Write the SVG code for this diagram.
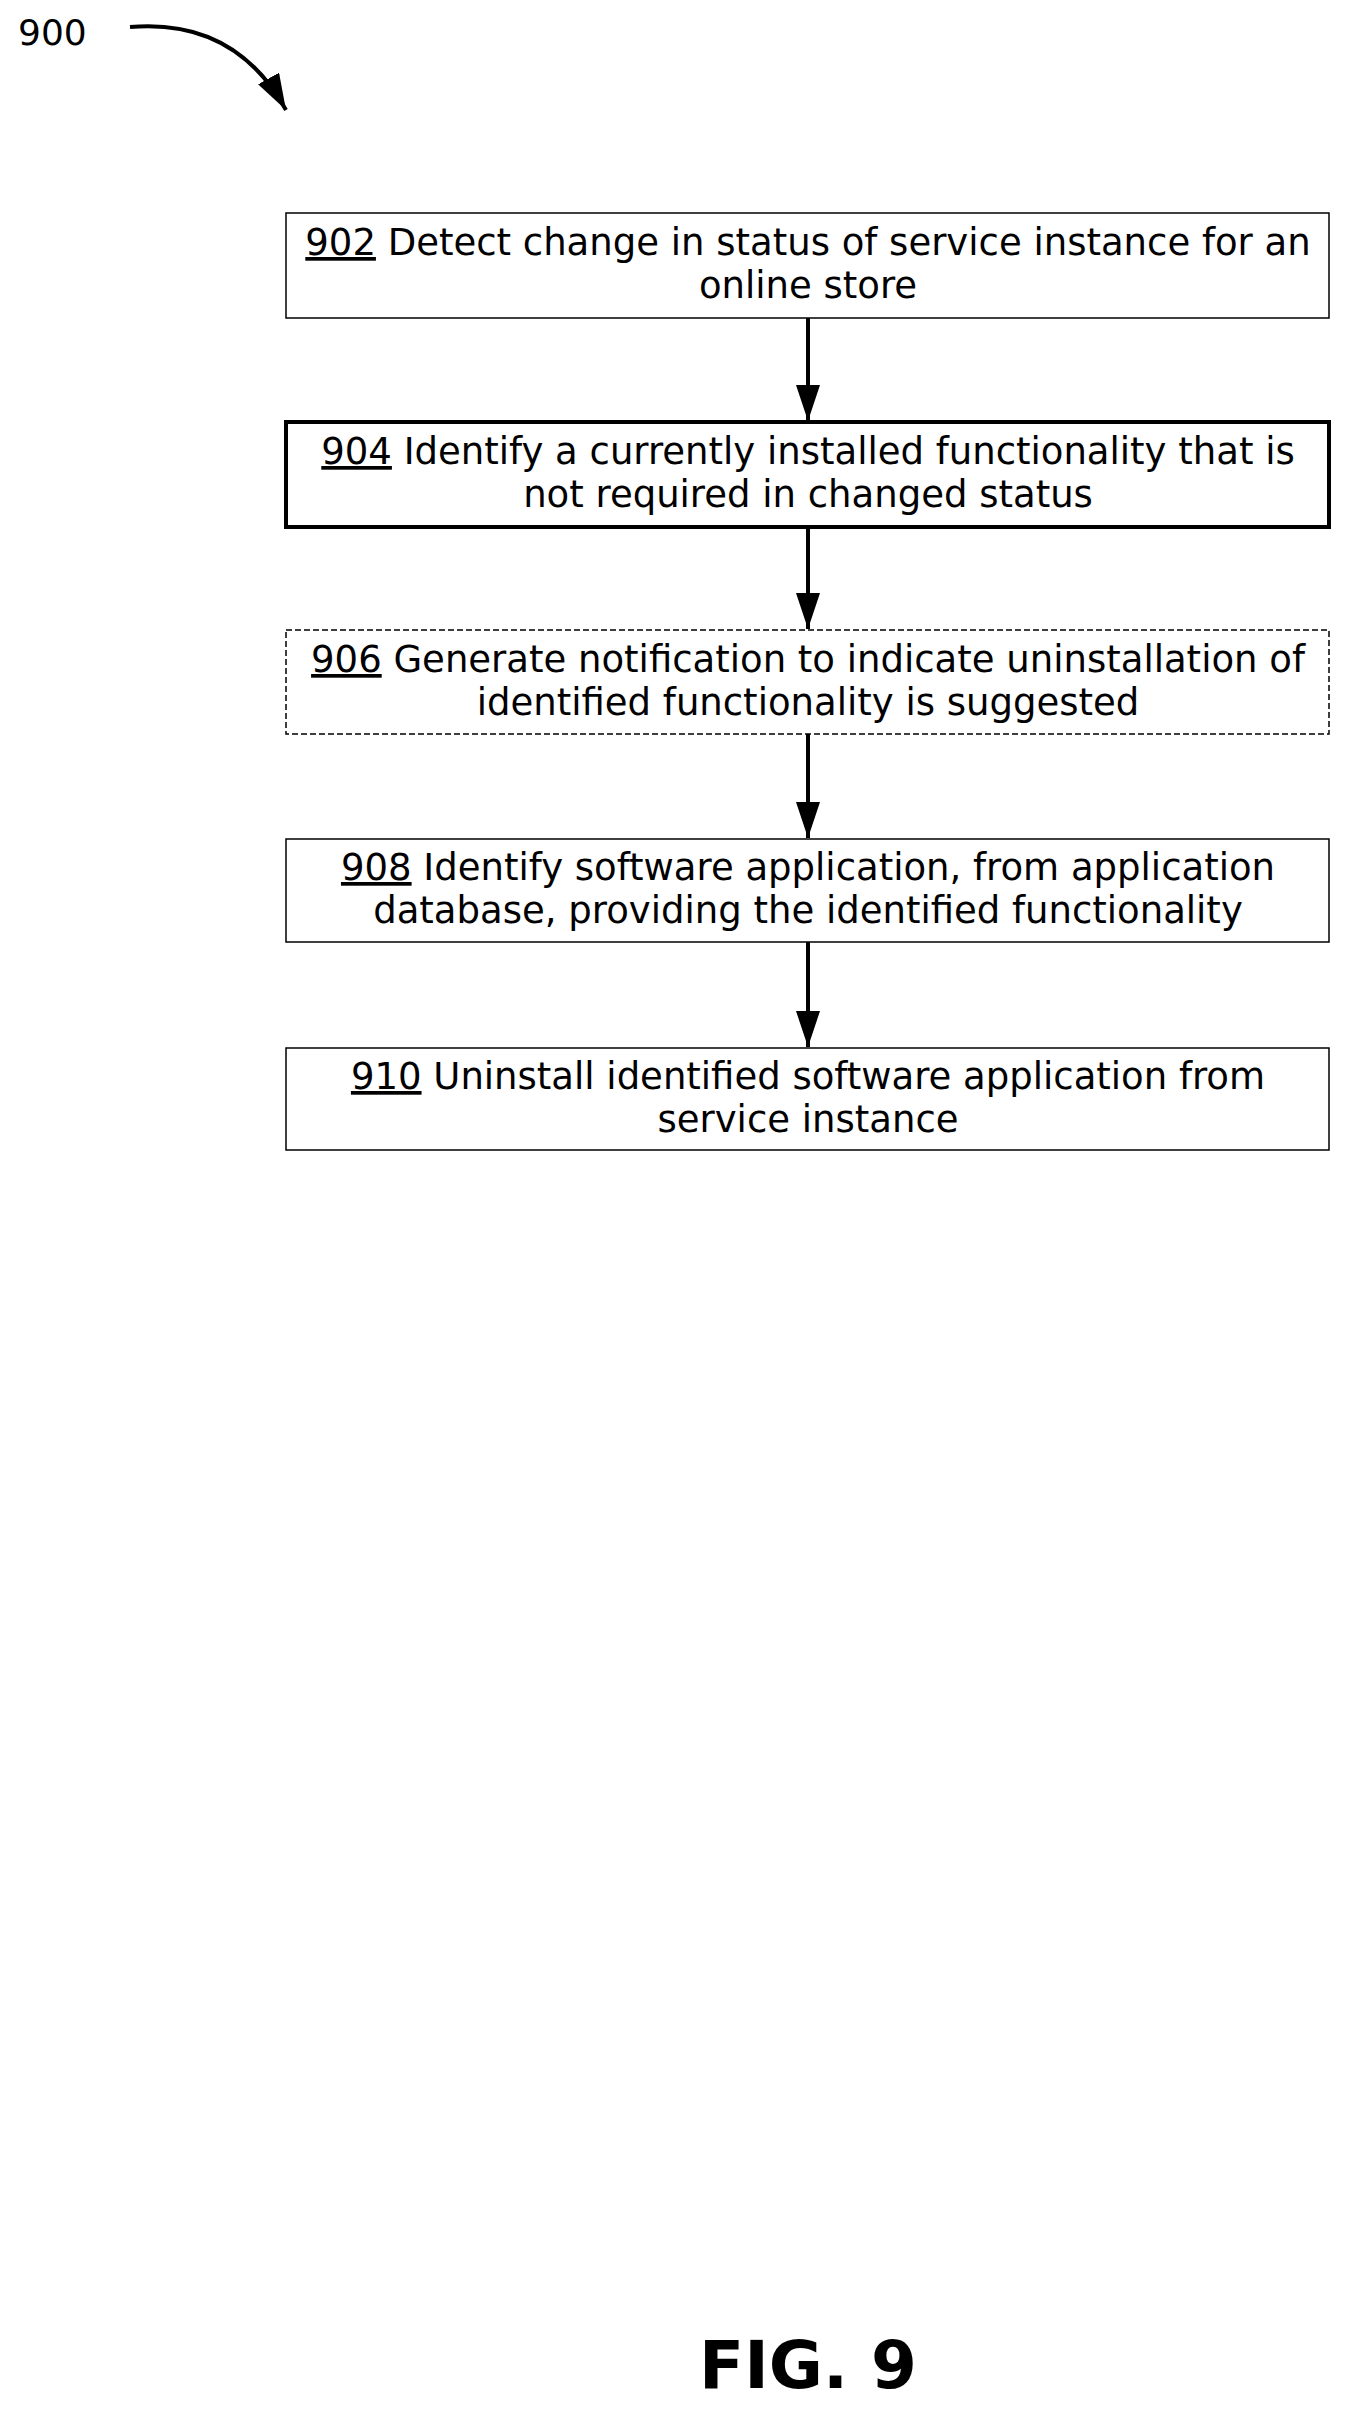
<svg xmlns="http://www.w3.org/2000/svg" width="1352" height="2412" viewBox="0 0 1352 2412">
<style>
text{font-family:"DejaVu Sans",Verdana,sans-serif;font-size:37px;fill:#000}
.t{text-anchor:middle}
.n{text-decoration:underline}
.box{fill:#fff;stroke:#000;stroke-width:1.5}
.line{stroke:#000;stroke-width:4;fill:none}
</style>
<defs>
<marker id="ah2" viewBox="0 0 36 24" refX="36" refY="12" markerWidth="36" markerHeight="24" orient="auto" markerUnits="userSpaceOnUse">
<path d="M0,0 L36,12 L0,24 Z" fill="#000"/>
</marker>
</defs>
<text x="18" y="45" style="font-size:36px">900</text>
<path class="line" d="M130,27 Q235,18 286,110" stroke-width="3.5" marker-end="url(#ah2)"/>
<g id="n902"><rect class="box" x="286" y="213" width="1043" height="105"/>
<text class="t" x="808" y="255"><tspan class="n">902</tspan> Detect change in status of service instance for an</text>
<text class="t" x="808" y="298">online store</text></g>
<g id="n904"><rect class="box" x="286" y="422" width="1043" height="105" style="stroke-width:4"/>
<text class="t" x="808" y="464"><tspan class="n">904</tspan> Identify a currently installed functionality that is</text>
<text class="t" x="808" y="507">not required in changed status</text></g>
<g id="n906"><rect class="box" x="286" y="630" width="1043" height="104" style="stroke-dasharray:6,3"/>
<text class="t" x="808" y="672"><tspan class="n">906</tspan> Generate notification to indicate uninstallation of</text>
<text class="t" x="808" y="715">identified functionality is suggested</text></g>
<g id="n908"><rect class="box" x="286" y="839" width="1043" height="103"/>
<text class="t" x="808" y="880"><tspan class="n">908</tspan> Identify software application, from application</text>
<text class="t" x="808" y="923">database, providing the identified functionality</text></g>
<g id="n910"><rect class="box" x="286" y="1048" width="1043" height="102"/>
<text class="t" x="808" y="1089"><tspan class="n">910</tspan> Uninstall identified software application from</text>
<text class="t" x="808" y="1132">service instance</text></g>
<g id="connectors">
<line class="line" x1="808" y1="318" x2="808" y2="421" marker-end="url(#ah2)"/>
<line class="line" x1="808" y1="527" x2="808" y2="629" marker-end="url(#ah2)"/>
<line class="line" x1="808" y1="734" x2="808" y2="838" marker-end="url(#ah2)"/>
<line class="line" x1="808" y1="942" x2="808" y2="1047" marker-end="url(#ah2)"/>
</g>
<text class="t" x="808" y="2388" style="font-size:66px;font-weight:bold">FIG. 9</text>
</svg>
